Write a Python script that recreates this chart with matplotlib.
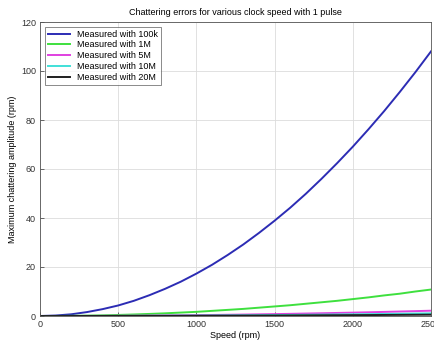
import matplotlib.pyplot as plt

speed = [0, 100, 200, 300, 400, 500, 600, 700, 800, 900, 1000, 1100, 1200,
         1300, 1400, 1500, 1600, 1700, 1800, 1900, 2000, 2100, 2200, 2300,
         2400, 2500]

err_100k = [0.0, 0.2, 0.7, 1.6, 2.8, 4.3, 6.2, 8.5, 11.1, 14.0, 17.3, 20.9,
            24.9, 29.2, 33.9, 38.9, 44.2, 49.9, 56.0, 62.4, 69.1, 76.2, 83.6,
            91.4, 99.5, 108.0]
err_1m = [0.0, 0.02, 0.07, 0.16, 0.28, 0.43, 0.62, 0.85, 1.1, 1.4, 1.7, 2.1,
          2.5, 2.9, 3.4, 3.9, 4.4, 5.0, 5.6, 6.2, 6.9, 7.6, 8.4, 9.1, 10.0,
          10.8]
err_5m = [0.0, 0.0, 0.01, 0.03, 0.06, 0.09, 0.12, 0.17, 0.22, 0.28, 0.35,
          0.42, 0.5, 0.58, 0.68, 0.78, 0.88, 1.0, 1.12, 1.25, 1.38, 1.52,
          1.67, 1.83, 1.99, 2.16]
err_10m = [0.0, 0.0, 0.01, 0.02, 0.03, 0.04, 0.06, 0.08, 0.11, 0.14, 0.17,
           0.21, 0.25, 0.29, 0.34, 0.39, 0.44, 0.5, 0.56, 0.62, 0.69, 0.76,
           0.84, 0.91, 1.0, 1.08]
err_20m = [0.0, 0.0, 0.0, 0.01, 0.01, 0.02, 0.03, 0.04, 0.06, 0.07, 0.09,
           0.1, 0.12, 0.15, 0.17, 0.19, 0.22, 0.25, 0.28, 0.31, 0.35, 0.38,
           0.42, 0.46, 0.5, 0.54]

labels = ["Measured with 100k", "Measured with 1M", "Measured with 5M",
          "Measured with 10M", "Measured with 20M"]
colors = ["#2c2cb4", "#3ee03e", "#e040e0", "#40e0d8", "#202020"]

plt.rcParams['font.family'] = ['Liberation Sans', 'DejaVu Sans']
plt.rcParams['font.size'] = 6.5

fig = plt.figure(figsize=(4.35, 3.4), dpi=100)
ax = fig.add_axes([40 / 435, 1 - 316 / 340, 391 / 435, 294 / 340])

series = [err_100k, err_1m, err_5m, err_10m, err_20m]
for vals, lab, col in zip(series, labels, colors):
    ax.plot(speed, vals, color=col, lw=1.4, label=lab)

ax.set_xlim(0, 2500)
ax.set_ylim(0, 120)
ax.set_xticks([0, 500, 1000, 1500, 2000, 2500])
ax.set_yticks([0, 20, 40, 60, 80, 100, 120])
ax.grid(True, color="#dcdcdc", lw=0.6)
ax.tick_params(direction='in', length=3, width=0.5, labelsize=6.5, pad=3,
               colors="#333333")
for sp in ax.spines.values():
    sp.set_linewidth(0.6)
    sp.set_color("#555555")

ax.set_title("Chattering errors for various clock speed with 1 pulse",
             fontsize=6.5, pad=5)
ax.set_xlabel("Speed (rpm)", fontsize=6.5, labelpad=1)
ax.set_ylabel("Maximum chattering amplitude (rpm)", fontsize=6.5, labelpad=3)

leg = ax.legend(loc='upper left', fontsize=6.5, frameon=True, fancybox=False,
                edgecolor='#333333', handlelength=2.5, labelspacing=0.2,
                borderpad=0.35, borderaxespad=0.5)
leg.get_frame().set_linewidth(0.5)

fig.savefig("out.png", dpi=100)
